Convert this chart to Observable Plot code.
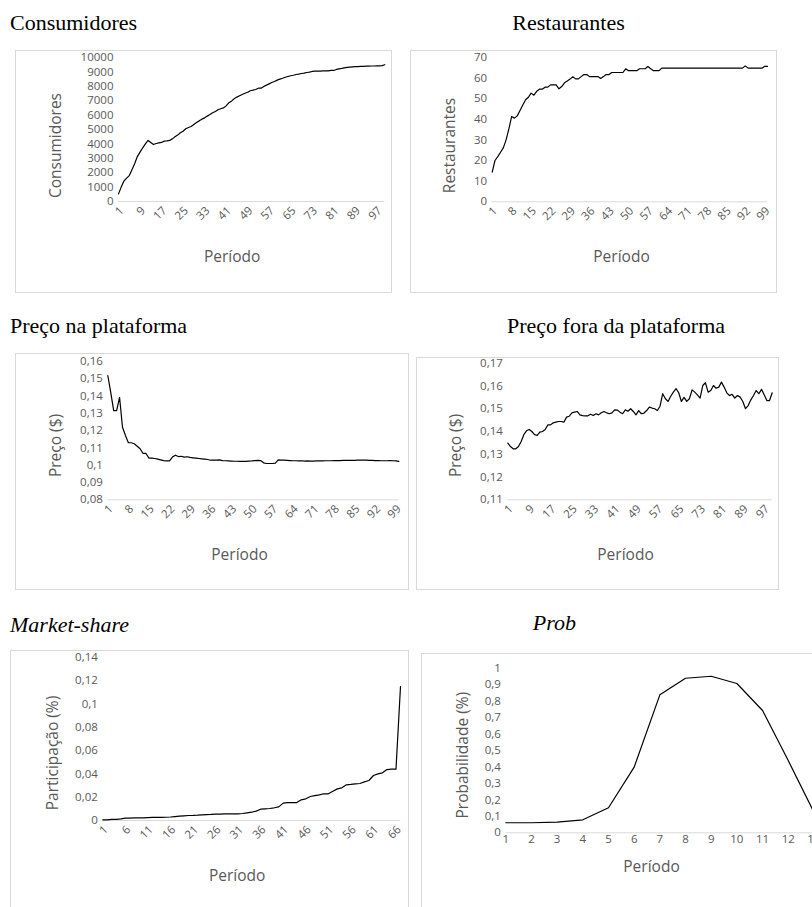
<!DOCTYPE html>
<html><head><meta charset="utf-8">
<script src="https://cdn.jsdelivr.net/npm/d3@7"></script>
<script src="https://cdn.jsdelivr.net/npm/@observablehq/plot@0.6"></script>
<style>
html,body{margin:0;padding:0;background:#fff;overflow:hidden;width:812px;height:907px}
#page{position:relative;width:812px;height:907px;overflow:hidden;background:#fff}
.box{position:absolute;border:1px solid #d9d9d9;box-sizing:border-box}
.holder{position:absolute}
.holder svg{display:block;max-width:none!important;overflow:visible}
.title{position:absolute;font-family:"Liberation Serif","Times New Roman",serif;font-size:22px;line-height:1;color:#000;white-space:nowrap}
</style></head><body><div id="page"></div>
<script>
// ---------- data ----------
const consumidores = [530,1000,1410,1620,1800,2200,2620,3120,3430,3730,
4000,4240,4100,3960,4030,4070,4100,4190,4210,4240,
4350,4490,4610,4770,4880,5050,5140,5210,5350,5490,
5600,5720,5810,5930,6040,6160,6250,6370,6440,6500,
6640,6850,6970,7130,7250,7340,7430,7520,7590,7690,
7730,7780,7870,7870,7990,8080,8170,8260,8330,8430,
8500,8560,8630,8680,8730,8770,8820,8840,8890,8910,
8960,8980,9030,9050,9050,9050,9070,9070,9070,9100,
9100,9170,9210,9240,9280,9310,9330,9350,9360,9370,
9380,9390,9400,9400,9410,9410,9420,9420,9440,9500];

const restaurantes = [14.4,20,21.9,24,26.1,30,35.3,41.3,40.5,41.6,
44.2,46.9,49.4,50.6,52.6,51.6,53.5,54.5,54.5,55.5,
55.5,56.6,56.6,56.6,54.7,55.8,57.6,58.5,59.4,60.5,
59.5,59.5,60.6,61.6,61.6,60.6,60.6,60.6,60.6,59.7,
60.6,61.6,61.6,62.6,62.6,62.6,62.6,62.6,64.4,63.5,
63.5,63.5,63.5,64.4,64.4,64.4,65.5,64.4,63.5,63.5,
63.5,64.7,64.7,64.7,64.7,64.7,64.7,64.7,64.7,64.7,
64.7,64.7,64.7,64.7,64.7,64.7,64.7,64.7,64.7,64.7,
64.7,64.7,64.7,64.7,64.7,64.7,64.7,64.7,64.7,64.7,
64.7,65.8,64.7,64.7,64.7,64.7,64.7,64.7,65.6,65.6];

const precoNaPlataforma = [0.1519,0.1422,0.1316,0.1316,0.1393,0.122,0.1172,0.113,0.113,0.1124,
0.111,0.1095,0.1068,0.1068,0.1041,0.1041,0.1039,0.1035,0.1031,0.1027,
0.1025,0.1025,0.1047,0.1058,0.105,0.1052,0.1047,0.1049,0.1045,0.1043,
0.1041,0.1039,0.1037,0.1035,0.1033,0.1029,0.1029,0.1029,0.1031,0.1027,
0.1026,0.1025,0.1024,0.1023,0.1023,0.1022,0.1022,0.1022,0.1024,0.1025,
0.1027,0.1028,0.1027,0.1014,0.101,0.101,0.101,0.1012,0.1031,0.103,
0.1029,0.1028,0.1027,0.1026,0.1026,0.1025,0.1026,0.1024,0.1025,0.1024,
0.1024,0.1025,0.1025,0.1025,0.1026,0.1026,0.1026,0.1027,0.1027,0.1027,
0.1028,0.1028,0.1028,0.1028,0.1028,0.1029,0.1029,0.1029,0.1029,0.1028,
0.1028,0.1027,0.1027,0.1026,0.1026,0.1026,0.1027,0.1026,0.1025,0.1022];

const precoForaPlataforma = [0.1349,0.1334,0.1324,0.1324,0.1334,0.1356,0.1386,0.1403,0.1409,0.14,
0.1386,0.1383,0.1397,0.14,0.1409,0.1429,0.1429,0.1438,0.1441,0.1444,
0.1444,0.1441,0.1463,0.1467,0.1482,0.1485,0.1488,0.1473,0.147,0.1469,
0.1469,0.1476,0.147,0.1478,0.1473,0.1482,0.1488,0.1482,0.1478,0.1482,
0.1495,0.1494,0.1485,0.1478,0.1495,0.1489,0.15,0.1488,0.1473,0.1492,
0.1478,0.1481,0.1492,0.1507,0.1503,0.15,0.1492,0.1511,0.1566,0.1544,
0.1532,0.1555,0.1573,0.1588,0.157,0.1532,0.155,0.1532,0.1544,0.1583,
0.1573,0.1561,0.1547,0.1602,0.1614,0.1573,0.158,0.1602,0.159,0.1595,
0.1617,0.1595,0.157,0.1558,0.1563,0.1547,0.1558,0.1551,0.1532,0.15,
0.1514,0.1539,0.1558,0.158,0.1566,0.1585,0.1561,0.1536,0.1536,0.157];

const marketShare = [0.0006,0.0006,0.0009,0.0009,0.0014,0.002,0.0021,0.0022,0.0022,0.0023,
0.0025,0.0026,0.0027,0.0027,0.0028,0.003,0.0034,0.0037,0.004,0.0043,
0.0044,0.0046,0.0049,0.0051,0.0052,0.0054,0.0055,0.0056,0.0056,0.0057,
0.0057,0.006,0.0066,0.0071,0.008,0.0097,0.01,0.0103,0.0109,0.0117,
0.0149,0.0154,0.0154,0.0154,0.0177,0.0186,0.0206,0.0214,0.022,0.0229,
0.0229,0.0251,0.0271,0.028,0.0306,0.0309,0.0314,0.0317,0.0331,0.0343,
0.0386,0.04,0.0409,0.0437,0.044,0.044,0.1149];

const prob = [0.061,0.061,0.065,0.079,0.152,0.399,0.838,0.939,0.951,0.907,0.743,0.439,0.125];

// tick labels
const xTicks1 = [1,9,17,25,33,41,49,57,65,73,81,89,97];
const xTicks2 = [1,8,15,22,29,36,43,50,57,64,71,78,85,92,99];
const xTicks3 = [1,8,15,22,29,36,43,50,57,64,71,78,85,92,99];
const xTicks4 = [1,9,17,25,33,41,49,57,65,73,81,89,97];
const xTicks5 = [1,6,11,16,21,26,31,36,41,46,51,56,61,66];
const xTicks6 = [1,2,3,4,5,6,7,8,9,10,11,12,13];
const yTicks1 = [0,1000,2000,3000,4000,5000,6000,7000,8000,9000,10000];
const yTicks2 = [0,10,20,30,40,50,60,70];
const yTicks3 = [0.08,0.09,0.1,0.11,0.12,0.13,0.14,0.15,0.16];
const yTicks4 = [0.11,0.12,0.13,0.14,0.15,0.16,0.17];
const yTicks5 = [0,0.02,0.04,0.06,0.08,0.1,0.12,0.14];
const yTicks6 = [0,0.1,0.2,0.3,0.4,0.5,0.6,0.7,0.8,0.9,1];

const titles = ["Consumidores","Restaurantes","Preço na plataforma","Preço fora da plataforma","Market-share","Prob"];
const yLabels = ["Consumidores","Restaurantes","Preço ($)","Preço ($)","Participação (%)","Probabilidade (%)"];
const xLabel = "Período";

// ---------- layout ----------
const page = document.getElementById("page");
const fmt = d => String(+d.toFixed(2)).replace(".", ",");

const panels = [
  {values: consumidores, xTicks: xTicks1, yTicks: yTicks1, rotate: -45, box:[15,50,377,243], fx:[118,384.3], fy:[57,201], xl:[231.7,257], yl:[56,145]},
  {values: restaurantes, xTicks: xTicks2, yTicks: yTicks2, rotate: -45, box:[410,50,367,243], fx:[491.7,767], fy:[56.7,201.3], xl:[621,257], yl:[450,145]},
  {values: precoNaPlataforma, xTicks: xTicks3, yTicks: yTicks3, rotate: -45, box:[15,353,394,237], fx:[107.3,398.3], fy:[361,499.3], xl:[239,555], yl:[55.5,445]},
  {values: precoForaPlataforma, xTicks: xTicks4, yTicks: yTicks4, rotate: -45, box:[416,357,363,233], fx:[507.3,771.7], fy:[362.7,499.3], xl:[625,555], yl:[456,445]},
  {values: marketShare, xTicks: xTicks5, yTicks: yTicks5, rotate: -45, box:[10,650,399,267], fx:[102.3,400], fy:[656.7,820], xl:[236.7,876], yl:[52.5,752.5]},
  {values: prob, xTicks: xTicks6, yTicks: yTicks6, rotate: 0, box:[421,653,412,264], fx:[505.3,813.4], fy:[667.7,832.3], xl:[651,866.7], yl:[462.7,754.7]}
];

const titlePos = [
  {left: 10, top: 11.6, center: false, italic: false},
  {left: 568.5, top: 11.6, center: true, italic: false},
  {left: 10, top: 314.6, center: false, italic: false},
  {left: 616, top: 314.6, center: true, italic: false},
  {left: 10, top: 613.5, center: false, italic: true},
  {left: 554.3, top: 612, center: true, italic: true}
];

panels.forEach((p, i) => {
  const [bx, by, bw, bh] = p.box;
  const box = document.createElement("div");
  box.className = "box";
  Object.assign(box.style, {left: bx + "px", top: by + "px", width: bw + "px", height: bh + "px"});
  page.appendChild(box);

  const mL = p.fx[0] - bx, mR = bx + bw - p.fx[1], mT = p.fy[0] - by, mB = by + bh - p.fy[1];
  const data = p.values.map((v, k) => ({periodo: k + 1, valor: v}));
  const xAxisOpts = p.rotate
    ? {ticks: p.xTicks, tickSize: 0, tickRotate: p.rotate, tickPadding: 4, textAnchor: "end", lineAnchor: "top", tickFormat: d => String(d), label: null}
    : {ticks: p.xTicks, tickSize: 0, tickPadding: 2, tickFormat: d => String(d), label: null};
  const svg = Plot.plot({
    width: bw, height: bh,
    marginLeft: mL, marginRight: mR, marginTop: mT, marginBottom: mB,
    style: {fontFamily: "'Open Sans', sans-serif", fontSize: "11.5px", color: "#595959", background: "transparent"},
    x: {type: "linear", domain: [1, p.values.length]},
    y: {type: "linear", domain: [p.yTicks[0], p.yTicks[p.yTicks.length - 1]]},
    marks: [
      Plot.ruleY([p.yTicks[0]], {stroke: "#d9d9d9", strokeWidth: 1}),
      Plot.axisX(xAxisOpts),
      Plot.axisY({ticks: p.yTicks, tickSize: 0, tickPadding: 5, tickFormat: fmt, label: null}),
      Plot.lineY(data, {x: "periodo", y: "valor", stroke: "#000", strokeWidth: 1.2}),
      Plot.text([xLabel], {text: d => d, frameAnchor: "top-left", dx: p.xl[0] - p.fx[0], dy: p.xl[1] - p.fy[0], fontSize: 15.5, fill: "#595959", textAnchor: "middle", lineAnchor: "middle"}),
      Plot.text([yLabels[i]], {text: d => d, frameAnchor: "top-left", dx: p.yl[0] - p.fx[0], dy: p.yl[1] - p.fy[0], rotate: -90, fontSize: 15.5, fill: "#595959", textAnchor: "middle", lineAnchor: "middle"})
    ]
  });
  const holder = document.createElement("div");
  holder.className = "holder";
  Object.assign(holder.style, {left: bx + "px", top: by + "px", width: bw + "px", height: bh + "px"});
  holder.appendChild(svg);
  page.appendChild(holder);

  const t = document.createElement("div");
  t.className = "title";
  t.textContent = titles[i];
  const tp = titlePos[i];
  Object.assign(t.style, {left: tp.left + "px", top: tp.top + "px"});
  if (tp.center) t.style.transform = "translateX(-50%)";
  if (tp.italic) t.style.fontStyle = "italic";
  page.appendChild(t);
});
</script>
</body></html>
